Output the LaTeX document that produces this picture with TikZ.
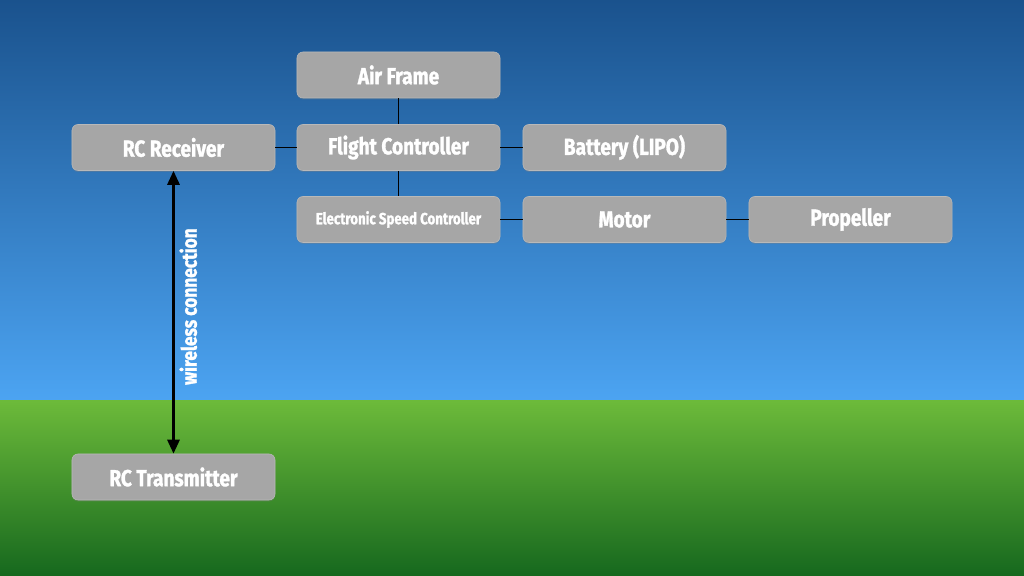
\documentclass[tikz,border=0pt]{standalone}
\usepackage{fontspec}
\newfontfamily\boxfont{Fira Sans}[FakeStretch=0.82, BoldFeatures={FakeBold=1.3}]
\usetikzlibrary{arrows.meta,shadows}

\colorlet{skytop}{rgb,255:red,26;green,82;blue,141}
\colorlet{skybot}{rgb,255:red,76;green,164;blue,242}
\colorlet{grasstop}{rgb,255:red,108;green,186;blue,58}
\colorlet{grassbot}{rgb,255:red,22;green,104;blue,30}
\colorlet{boxfill}{rgb,255:red,166;green,166;blue,166}

\tikzset{
  part/.style={rectangle, rounded corners=0.15cm, fill=boxfill, draw=gray!55,
               line width=0.4pt, minimum width=5.075cm, minimum height=1.15cm,
               inner sep=0, text=white, font=\boxfont\bfseries\fontsize{16.5}{19}\selectfont,
               drop shadow={shadow xshift=0pt, shadow yshift=-1pt, opacity=0.35}},
  link/.style={black, line width=0.6pt},
  radio/.style={{Triangle[length=0.35cm,width=0.3cm]}-{Triangle[length=0.35cm,width=0.3cm]},
                black, line width=2pt},
}

\begin{document}
\begin{tikzpicture}[x=0.025cm, y=0.025cm]
        % 1 unit = 1 px of the 1024 x 576 frame, y measured from the bottom
        % box = 203 x 46 px, columns x = 173.5 / 398.5 / 624.5 / 850.5
        % rows y = 501 / 428.5 / 356.5, transmitter y = 99, horizon y = 175

        % ---- background ----
        \useasboundingbox (0,0) rectangle (1024,576);
        \shade[top color=skytop, bottom color=skybot] (0,175) rectangle (1024,576);
        \shade[top color=grasstop, bottom color=grassbot] (0,0) rectangle (1024,175);

        % ---- parts ----
        \node[part] (airframe)   at (398.5, 501)   {Air Frame};
        \node[part] (receiver)   at (173.5, 428.5) {RC Receiver};
        \node[part] (controller) at (398.5, 428.5) {Flight Controller};
        \node[part] (battery)    at (624.5, 428.5) {Battery (LIPO)};
        \node[part, font=\boxfont\bfseries\fontsize{11.5}{13}\selectfont]
                    (esc)        at (398.5, 356.5) {Electronic Speed Controller};
        \node[part] (motor)      at (624.5, 356.5) {Motor};
        \node[part] (propeller)  at (850.5, 356.5) {Propeller};
        \node[part] (transmitter) at (173.5, 99)   {RC Transmitter};

        % ---- wiring ----
        \draw[link] (airframe.south) -- (controller.north);
        \draw[link] (receiver.east) -- (controller.west);
        \draw[link] (controller.east) -- (battery.west);
        \draw[link] (controller.south) -- (esc.north);
        \draw[link] (esc.east) -- (motor.west);
        \draw[link] (motor.east) -- (propeller.west);

        % ---- radio link ----
        \draw[radio] (receiver.south) -- (transmitter.north)
          node[pos=0.48, rotate=90, anchor=north, text=white,
               font=\boxfont\bfseries\fontsize{15}{17}\selectfont] (wireless) {wireless connection};
      \end{tikzpicture}
\end{document}
